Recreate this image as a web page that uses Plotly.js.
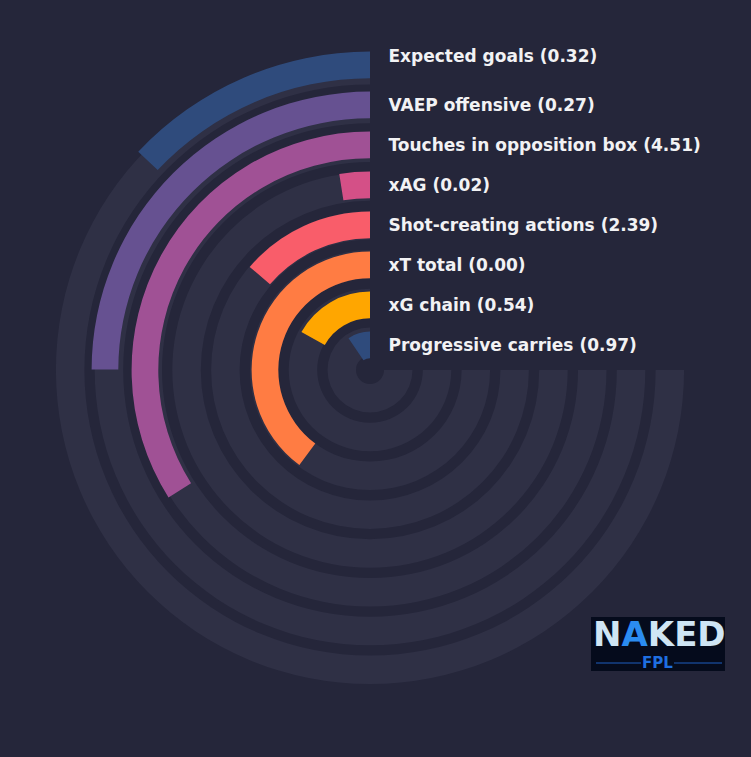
<!DOCTYPE html>
<html>
<head>
<meta charset="utf-8">
<script src="https://cdn.plot.ly/plotly-3.0.1.min.js"></script>
<style>
  html, body { margin: 0; padding: 0; background: #25263a; }
  #chart { width: 751px; height: 757px; }
</style>
</head>
<body>
<div id="chart"></div>
<script>
// metrics, outermost ring first
const labels = ['Expected goals', 'VAEP offensive', 'Touches in opposition box', 'xAG',
                'Shot-creating actions', 'xT total', 'xG chain', 'Progressive carries'];
const rawValues = [0.32, 0.27, 4.51, 0.02, 2.39, 0.00, 0.54, 0.97];
const percentiles = [17.3, 33.3, 45.3, 3.3, 18.3, 53.1, 22.6, 12.6];
const colors = ['#2f4b7c', '#665191', '#a05195', '#d45087', '#f95d6a', '#ff7c43', '#ffa600', '#2f4b7c'];

const W = 751, H = 757;
const cx = 370, cy = 370;   // centre in page px
const R = 320;              // polar radius in px, radial axis 0..R
const fullSweep = 270;
const n = labels.length;

// ring geometry (px)
const barInner = i => 291.7 - 40 * i;
const barThick = 26.7;
const trackInner = i => 14 + 38.8 * (n - 1 - i);
const trackThick = 28.5;
// the top label sits a bit higher than its ring
const labelLift = i => (i === 0 ? 7 : -1.7);

const idx = labels.map((_, i) => i);
const angles = percentiles.map(p => p / 100 * fullSweep);

const tracks = {
    type: 'barpolar',
    theta: idx.map(() => fullSweep / 2),
    width: idx.map(() => fullSweep),
    base: idx.map(trackInner),
    r: idx.map(() => trackThick),
    marker: { color: '#2f3045', line: { width: 0 } },
    hoverinfo: 'none'
};

const bars = {
    type: 'barpolar',
    theta: angles.map(a => a / 2),
    width: angles,
    base: idx.map(barInner),
    r: idx.map(() => barThick),
    marker: { color: colors, line: { width: 0 } },
    hoverinfo: 'none'
};

const names = {
    type: 'scatterpolar',
    mode: 'markers+text',
    theta: idx.map(() => 0),
    r: idx.map(i => barInner(i) + barThick / 2 + labelLift(i)),
    text: labels.map((l, i) => l + ' (' + rawValues[i].toFixed(2) + ')'),
    textposition: 'middle right',
    textfont: { family: 'DejaVu Sans', size: 17, color: '#f2f2f4', weight: 'bold' },
    marker: { size: 28, opacity: 0 },
    hoverinfo: 'none',
    cliponaxis: false
};

const layout = {
    width: W,
    height: H,
    margin: { l: 0, r: 0, t: 0, b: 0 },
    paper_bgcolor: '#25263a',
    plot_bgcolor: '#25263a',
    showlegend: false,
    dragmode: false,
    polar: {
        domain: {
            x: [(cx - R) / W, (cx + R) / W],
            y: [(H - cy - R) / H, (H - cy + R) / H]
        },
        bgcolor: 'rgba(0,0,0,0)',
        barmode: 'overlay',
        hole: 0,
        radialaxis: { range: [0, R], visible: false, showgrid: false },
        angularaxis: { rotation: 90, direction: 'counterclockwise', visible: false, showgrid: false }
    },
    // logo badge
    shapes: [
        { type: 'rect', xref: 'paper', yref: 'paper', x0: 591 / W, x1: 725 / W,
          y0: 1 - 671 / H, y1: 1 - 617 / H, fillcolor: '#050b1c', line: { width: 0 } },
        { type: 'line', xref: 'paper', yref: 'paper', x0: 596 / W, x1: 641 / W,
          y0: 1 - 663 / H, y1: 1 - 663 / H, line: { color: '#1f5fbf', width: 1 } },
        { type: 'line', xref: 'paper', yref: 'paper', x0: 674 / W, x1: 722 / W,
          y0: 1 - 663 / H, y1: 1 - 663 / H, line: { color: '#1f5fbf', width: 1 } }
    ],
    annotations: [
        { xref: 'paper', yref: 'paper', x: 659 / W, y: 1 - 634 / H,
          xanchor: 'center', yanchor: 'middle', showarrow: false,
          text: 'N<span style="color:#2b8cf0">A</span>KED',
          font: { family: 'DejaVu Sans', size: 34, color: '#cfe5f4', weight: 'bold' } },
        { xref: 'paper', yref: 'paper', x: 657 / W, y: 1 - 663 / H,
          xanchor: 'center', yanchor: 'middle', showarrow: false,
          text: 'FPL',
          font: { family: 'DejaVu Sans', size: 15, color: '#1f6fe0', weight: 'bold' } }
    ]
};

Plotly.newPlot('chart', [tracks, bars, names], layout, { staticPlot: true, displayModeBar: false });
</script>
</body>
</html>
